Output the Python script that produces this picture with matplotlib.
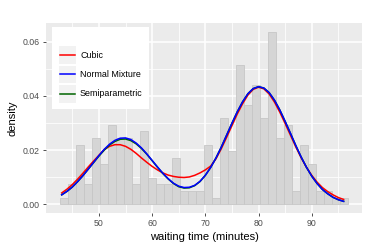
import matplotlib
matplotlib.use("Agg")
import matplotlib.pyplot as plt
from matplotlib.patches import Rectangle
from matplotlib.lines import Line2D
import numpy as np

plt.rcParams['font.family'] = ['Liberation Sans', 'DejaVu Sans']

# Histogram: bins of width 1.5 starting at 42.75 (counts per bin, n = 272)
bin_start = 42.75
bin_width = 1.5
counts = [1, 3, 9, 3, 10, 6, 12, 10, 10, 3, 11, 4, 3, 3, 7, 2, 2, 2,
          9, 1, 13, 8, 21, 15, 18, 13, 26, 10, 12, 2, 9, 6, 2, 2, 1, 1]
n_obs = 272

# Density curves read at integer waiting times 43..96
x_grid = list(range(43, 97))
cubic = [0.0042, 0.0056, 0.0073, 0.0093, 0.0115, 0.0138, 0.0160, 0.0181, 0.0202, 0.0214,
         0.0220, 0.0220, 0.0214, 0.0203, 0.0188, 0.0171, 0.0155, 0.0140, 0.0127, 0.0116,
         0.0108, 0.0103, 0.0100, 0.0099, 0.0101, 0.0107, 0.0116, 0.0127, 0.0141, 0.0168,
         0.0205, 0.0247, 0.0290, 0.0333, 0.0371, 0.0403, 0.0424, 0.0432, 0.0426, 0.0407,
         0.0377, 0.0340, 0.0298, 0.0255, 0.0212, 0.0172, 0.0137, 0.0107, 0.0082, 0.0062,
         0.0047, 0.0035, 0.0025, 0.0018]
normal_mix = [0.0035, 0.0048, 0.0064, 0.0084, 0.0106, 0.0130, 0.0155, 0.0180, 0.0203, 0.0222,
              0.0236, 0.0244, 0.0245, 0.0239, 0.0226, 0.0208, 0.0186, 0.0162, 0.0138, 0.0115,
              0.0095, 0.0078, 0.0067, 0.0062, 0.0063, 0.0070, 0.0085, 0.0107, 0.0136, 0.0171,
              0.0211, 0.0255, 0.0299, 0.0341, 0.0378, 0.0408, 0.0427, 0.0434, 0.0429, 0.0412,
              0.0384, 0.0348, 0.0306, 0.0262, 0.0217, 0.0175, 0.0137, 0.0104, 0.0077, 0.0055,
              0.0039, 0.0026, 0.0017, 0.0011]
semipar = [0.0035, 0.0048, 0.0064, 0.0084, 0.0106, 0.0130, 0.0154, 0.0178, 0.0200, 0.0219,
           0.0232, 0.0240, 0.0241, 0.0235, 0.0223, 0.0206, 0.0185, 0.0161, 0.0137, 0.0114,
           0.0094, 0.0077, 0.0065, 0.0060, 0.0061, 0.0069, 0.0084, 0.0107, 0.0136, 0.0171,
           0.0211, 0.0255, 0.0299, 0.0341, 0.0378, 0.0408, 0.0427, 0.0434, 0.0429, 0.0412,
           0.0384, 0.0348, 0.0306, 0.0262, 0.0217, 0.0175, 0.0137, 0.0104, 0.0077, 0.0055,
           0.0039, 0.0026, 0.0017, 0.0011]

series_names = ["Cubic", "Normal Mixture", "Semiparametric"]
series_colors = ["#ff0000", "#0000ff", "#006400"]

x_ticks = [50, 60, 70, 80, 90]
y_ticks = [0.00, 0.02, 0.04, 0.06]
y_ticklabels = ["0.00", "0.02", "0.04", "0.06"]

fig = plt.figure(figsize=(3.68, 2.48), dpi=100)
ax = fig.add_axes([0.125, 0.1411, 0.8587, 0.7662])
ax.set_facecolor("#ebebeb")

edges = bin_start + bin_width * np.arange(len(counts))
dens = np.array(counts) / (n_obs * bin_width)
ax.bar(edges, dens, width=bin_width, align="edge", color="#d5d5d5",
       edgecolor="#c6c6c6", linewidth=0.6, zorder=2)

ax.plot(x_grid, cubic, color=series_colors[0], lw=1.1, zorder=3)
ax.plot(x_grid, semipar, color=series_colors[2], lw=1.1, zorder=4)
ax.plot(x_grid, normal_mix, color=series_colors[1], lw=1.1, zorder=5)

ax.set_xlim(40.05, 99.45)
ax.set_ylim(-0.0032, 0.0669)
ax.set_xticks(x_ticks)
ax.set_xticks([45, 55, 65, 75, 85, 95], minor=True)
ax.set_yticks(y_ticks)
ax.set_yticklabels(y_ticklabels)
ax.set_yticks([0.01, 0.03, 0.05], minor=True)
ax.grid(which="major", color="white", lw=1.1, zorder=0)
ax.grid(which="minor", color="white", lw=0.55, zorder=0)
ax.set_axisbelow(True)
for s in ax.spines.values():
    s.set_visible(False)
ax.tick_params(which="major", length=2.5, width=0.6, color="#333333",
               labelsize=6.3, labelcolor="#4d4d4d", pad=2)
ax.tick_params(which="minor", length=0)

ax.set_xlabel("waiting time (minutes)", fontsize=8, labelpad=3)
ax.set_ylabel("density", fontsize=8, labelpad=4)

# Legend drawn inside the panel
T = ax.transAxes
ax.add_patch(Rectangle((0.019, 0.546), 0.306, 0.4345, transform=T,
                       facecolor="white", edgecolor="none", zorder=6))
key_x0, key_w, key_h = 0.0411, 0.0538, 0.0930
key_y = [0.784, 0.6826, 0.5805]
for name, col, ky in zip(series_names, series_colors, key_y):
    ax.add_patch(Rectangle((key_x0, ky), key_w, key_h, transform=T,
                           facecolor="#f2f2f2", edgecolor="none", zorder=7))
    ax.add_line(Line2D([key_x0 + 0.003, key_x0 + key_w - 0.003],
                       [ky + key_h / 2] * 2, transform=T, color=col, lw=1.1, zorder=8))
    ax.text(0.1076, ky + key_h / 2, name, transform=T, fontsize=6.4,
            va="center", ha="left", color="black", zorder=8)

fig.savefig("out.png", dpi=100)
